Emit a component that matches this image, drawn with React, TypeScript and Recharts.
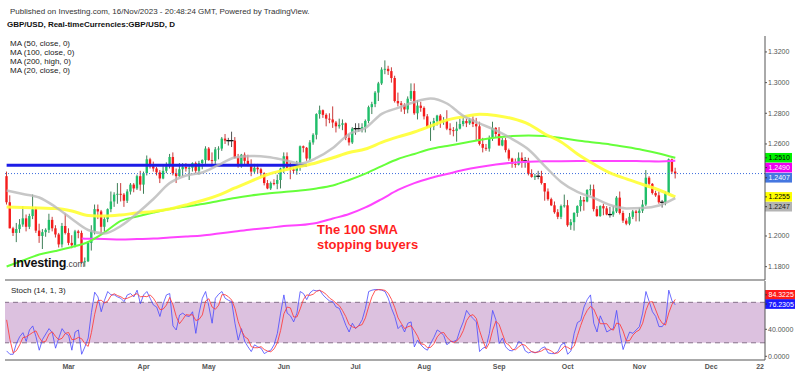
import {
  ComposedChart,
  Bar,
  Line,
  XAxis,
  YAxis,
  ReferenceLine,
  ReferenceArea,
} from "recharts";

const FONT = '"Liberation Sans", Arial, sans-serif';

// daily GBP/USD candles, 2 Feb 2023 .. 16 Nov 2023 (index 0 = 2 Feb)
const opens = [
  1.2390, 1.2220, 1.2050, 1.2020, 1.2045, 1.2075, 1.2115, 1.2060, 1.2130, 1.2175,
  1.2035, 1.2000, 1.2025, 1.2040, 1.2105, 1.2050, 1.2010, 1.1945, 1.2065, 1.2020,
  1.1955, 1.1940, 1.2030, 1.2020, 1.1830, 1.1835, 1.1955, 1.2030, 1.2175, 1.2160,
  1.2060, 1.2110, 1.2175, 1.2225, 1.2270, 1.2275, 1.2270, 1.2230, 1.2290, 1.2335,
  1.2310, 1.2390, 1.2335, 1.2410, 1.2500, 1.2455, 1.2440, 1.2415, 1.2375, 1.2425,
  1.2455, 1.2515, 1.2410, 1.2390, 1.2435, 1.2450, 1.2440, 1.2445, 1.2475, 1.2425,
  1.2475, 1.2495, 1.2570, 1.2495, 1.2490, 1.2565, 1.2570, 1.2635, 1.2622, 1.2622,
  1.2622, 1.2510, 1.2455, 1.2530, 1.2490, 1.2465, 1.2420, 1.2445, 1.2435, 1.2410,
  1.2345, 1.2310, 1.2345, 1.2340, 1.2365, 1.2440, 1.2520, 1.2445, 1.2435, 1.2425,
  1.2475, 1.2585, 1.2575, 1.2505, 1.2610, 1.2660, 1.2795, 1.2820, 1.2790, 1.2765,
  1.2760, 1.2740, 1.2715, 1.2725, 1.2735, 1.2640, 1.2610, 1.2700, 1.2700, 1.2700,
  1.2710, 1.2750, 1.2840, 1.2860, 1.2935, 1.2995, 1.3085, 1.3090, 1.3075, 1.3030,
  1.2880, 1.2865, 1.2855, 1.2825, 1.2895, 1.2945, 1.2800, 1.2850, 1.2835, 1.2780,
  1.2710, 1.2715, 1.2750, 1.2785, 1.2745, 1.2750, 1.2700, 1.2690, 1.2685, 1.2700,
  1.2730, 1.2750, 1.2735, 1.2760, 1.2730, 1.2715, 1.2600, 1.2575, 1.2570, 1.2635,
  1.2705, 1.2665, 1.2590, 1.2625, 1.2560, 1.2505, 1.2470, 1.2465, 1.2510, 1.2490,
  1.2490, 1.2405, 1.2385, 1.2390, 1.2390, 1.2345, 1.2290, 1.2240, 1.2200, 1.2155,
  1.2125, 1.2195, 1.2200, 1.2070, 1.2090, 1.2150, 1.2195, 1.2235, 1.2225, 1.2300,
  1.2305, 1.2175, 1.2130, 1.2195, 1.2180, 1.2140, 1.2140, 1.2160, 1.2250, 1.2150,
  1.2100, 1.2080, 1.2125, 1.2160, 1.2150, 1.2165, 1.2205, 1.2380, 1.2340, 1.2280,
  1.2265, 1.2220, 1.2220, 1.2280, 1.2500, 1.2420,
];

const highs = [
  1.2420, 1.2265, 1.2060, 1.2085, 1.2110, 1.2195, 1.2140, 1.2145, 1.2270, 1.2190,
  1.2080, 1.2045, 1.2050, 1.2145, 1.2125, 1.2070, 1.2020, 1.2085, 1.2145, 1.2050,
  1.2005, 1.2040, 1.2040, 1.2035, 1.1860, 1.1965, 1.2070, 1.2205, 1.2205, 1.2170,
  1.2125, 1.2180, 1.2290, 1.2285, 1.2345, 1.2345, 1.2280, 1.2305, 1.2345, 1.2345,
  1.2400, 1.2425, 1.2420, 1.2525, 1.2510, 1.2485, 1.2450, 1.2430, 1.2455, 1.2480,
  1.2535, 1.2545, 1.2440, 1.2475, 1.2475, 1.2475, 1.2460, 1.2480, 1.2485, 1.2490,
  1.2500, 1.2585, 1.2580, 1.2545, 1.2580, 1.2585, 1.2645, 1.2665, 1.2640, 1.2680,
  1.2645, 1.2535, 1.2535, 1.2545, 1.2530, 1.2500, 1.2470, 1.2470, 1.2445, 1.2415,
  1.2365, 1.2355, 1.2370, 1.2400, 1.2445, 1.2545, 1.2545, 1.2480, 1.2445, 1.2490,
  1.2590, 1.2590, 1.2580, 1.2625, 1.2670, 1.2800, 1.2850, 1.2825, 1.2800, 1.2800,
  1.2845, 1.2750, 1.2765, 1.2760, 1.2740, 1.2665, 1.2710, 1.2735, 1.2735, 1.2735,
  1.2760, 1.2850, 1.2875, 1.2945, 1.3005, 1.3100, 1.3145, 1.3110, 1.3100, 1.3045,
  1.2935, 1.2880, 1.2865, 1.2910, 1.2995, 1.2995, 1.2885, 1.2875, 1.2845, 1.2795,
  1.2745, 1.2770, 1.2790, 1.2795, 1.2775, 1.2820, 1.2735, 1.2710, 1.2745, 1.2765,
  1.2775, 1.2765, 1.2770, 1.2780, 1.2770, 1.2745, 1.2640, 1.2600, 1.2655, 1.2745,
  1.2710, 1.2710, 1.2640, 1.2640, 1.2570, 1.2510, 1.2505, 1.2545, 1.2545, 1.2515,
  1.2510, 1.2435, 1.2405, 1.2425, 1.2425, 1.2345, 1.2310, 1.2250, 1.2225, 1.2175,
  1.2205, 1.2270, 1.2235, 1.2110, 1.2155, 1.2200, 1.2260, 1.2255, 1.2305, 1.2335,
  1.2335, 1.2195, 1.2200, 1.2210, 1.2195, 1.2190, 1.2195, 1.2260, 1.2290, 1.2165,
  1.2115, 1.2150, 1.2170, 1.2170, 1.2185, 1.2235, 1.2430, 1.2390, 1.2345, 1.2295,
  1.2290, 1.2235, 1.2290, 1.2505, 1.2505, 1.2445,
];

const lows = [
  1.2205, 1.2050, 1.2000, 1.1960, 1.2020, 1.2060, 1.2030, 1.2045, 1.2110, 1.2020,
  1.1955, 1.1915, 1.1995, 1.2020, 1.2030, 1.1990, 1.1925, 1.1925, 1.2010, 1.1940,
  1.1920, 1.1925, 1.1985, 1.1820, 1.1800, 1.1830, 1.1905, 1.2010, 1.2110, 1.2010,
  1.2030, 1.2090, 1.2155, 1.2190, 1.2210, 1.2225, 1.2190, 1.2215, 1.2270, 1.2285,
  1.2300, 1.2295, 1.2275, 1.2395, 1.2440, 1.2420, 1.2395, 1.2345, 1.2370, 1.2410,
  1.2440, 1.2395, 1.2345, 1.2385, 1.2390, 1.2420, 1.2365, 1.2420, 1.2410, 1.2400,
  1.2435, 1.2470, 1.2490, 1.2460, 1.2470, 1.2500, 1.2555, 1.2600, 1.2590, 1.2580,
  1.2505, 1.2445, 1.2445, 1.2465, 1.2455, 1.2390, 1.2410, 1.2405, 1.2390, 1.2330,
  1.2305, 1.2300, 1.2330, 1.2305, 1.2310, 1.2410, 1.2440, 1.2370, 1.2405, 1.2400,
  1.2425, 1.2545, 1.2490, 1.2495, 1.2595, 1.2630, 1.2765, 1.2770, 1.2715, 1.2735,
  1.2705, 1.2675, 1.2700, 1.2690, 1.2625, 1.2590, 1.2600, 1.2660, 1.2680, 1.2675,
  1.2675, 1.2735, 1.2795, 1.2840, 1.2880, 1.2985, 1.3055, 1.3050, 1.3000, 1.2870,
  1.2845, 1.2810, 1.2795, 1.2800, 1.2880, 1.2790, 1.2760, 1.2810, 1.2760, 1.2705,
  1.2620, 1.2690, 1.2720, 1.2705, 1.2725, 1.2690, 1.2660, 1.2650, 1.2615, 1.2695,
  1.2715, 1.2710, 1.2725, 1.2710, 1.2620, 1.2590, 1.2545, 1.2555, 1.2550, 1.2620,
  1.2640, 1.2590, 1.2585, 1.2545, 1.2490, 1.2445, 1.2445, 1.2460, 1.2445, 1.2445,
  1.2395, 1.2380, 1.2365, 1.2370, 1.2335, 1.2230, 1.2230, 1.2195, 1.2145, 1.2110,
  1.2110, 1.2185, 1.2060, 1.2040, 1.2035, 1.2125, 1.2160, 1.2165, 1.2220, 1.2265,
  1.2160, 1.2125, 1.2125, 1.2135, 1.2135, 1.2120, 1.2125, 1.2150, 1.2140, 1.2085,
  1.2070, 1.2070, 1.2110, 1.2095, 1.2095, 1.2150, 1.2195, 1.2325, 1.2270, 1.2255,
  1.2210, 1.2185, 1.2200, 1.2275, 1.2405, 1.2375,
];

const closes = [
  1.2220, 1.2050, 1.2020, 1.2045, 1.2075, 1.2115, 1.2060, 1.2130, 1.2175, 1.2035,
  1.2000, 1.2025, 1.2040, 1.2105, 1.2050, 1.2010, 1.1945, 1.2065, 1.2020, 1.1955,
  1.1940, 1.2030, 1.2020, 1.1830, 1.1835, 1.1955, 1.2030, 1.2175, 1.2160, 1.2060,
  1.2110, 1.2175, 1.2225, 1.2270, 1.2275, 1.2270, 1.2230, 1.2290, 1.2335, 1.2310,
  1.2390, 1.2335, 1.2410, 1.2500, 1.2455, 1.2440, 1.2415, 1.2375, 1.2425, 1.2455,
  1.2515, 1.2410, 1.2390, 1.2435, 1.2450, 1.2440, 1.2445, 1.2475, 1.2425, 1.2475,
  1.2495, 1.2570, 1.2495, 1.2490, 1.2565, 1.2570, 1.2635, 1.2622, 1.2622, 1.2622,
  1.2510, 1.2455, 1.2530, 1.2490, 1.2465, 1.2420, 1.2445, 1.2435, 1.2410, 1.2345,
  1.2310, 1.2345, 1.2340, 1.2365, 1.2440, 1.2520, 1.2445, 1.2435, 1.2425, 1.2475,
  1.2585, 1.2575, 1.2505, 1.2610, 1.2660, 1.2795, 1.2820, 1.2790, 1.2765, 1.2760,
  1.2740, 1.2715, 1.2725, 1.2735, 1.2640, 1.2610, 1.2700, 1.2700, 1.2700, 1.2710,
  1.2750, 1.2840, 1.2860, 1.2935, 1.2995, 1.3085, 1.3090, 1.3075, 1.3030, 1.2880,
  1.2865, 1.2855, 1.2825, 1.2895, 1.2945, 1.2800, 1.2850, 1.2835, 1.2780, 1.2710,
  1.2715, 1.2750, 1.2785, 1.2745, 1.2750, 1.2700, 1.2690, 1.2685, 1.2700, 1.2730,
  1.2750, 1.2735, 1.2760, 1.2730, 1.2715, 1.2600, 1.2575, 1.2570, 1.2635, 1.2705,
  1.2665, 1.2590, 1.2625, 1.2560, 1.2505, 1.2470, 1.2465, 1.2510, 1.2490, 1.2490,
  1.2405, 1.2385, 1.2390, 1.2390, 1.2345, 1.2290, 1.2240, 1.2200, 1.2155, 1.2125,
  1.2195, 1.2200, 1.2070, 1.2090, 1.2150, 1.2195, 1.2235, 1.2225, 1.2300, 1.2305,
  1.2175, 1.2130, 1.2195, 1.2180, 1.2140, 1.2140, 1.2160, 1.2250, 1.2150, 1.2100,
  1.2080, 1.2125, 1.2160, 1.2150, 1.2165, 1.2205, 1.2380, 1.2340, 1.2280, 1.2265,
  1.2220, 1.2220, 1.2280, 1.2500, 1.2420, 1.2407,
];

// moving averages every 5 sessions
const maDays = [
  0, 5, 10, 15, 20, 25, 30, 35, 40, 45, 50, 55, 60, 65, 70, 75, 80, 85, 90, 95, 100,
  105, 110, 115, 120, 125, 130, 135, 140, 145, 150, 155, 160, 165, 170, 175, 180, 185,
  190, 195, 200, 205,
];
const ma50 = [
  1.2189, 1.2186, 1.2182, 1.2179, 1.2163, 1.2134, 1.2130, 1.2137, 1.2150, 1.2160, 1.2176,
  1.2202, 1.2231, 1.2267, 1.2313, 1.2358, 1.2401, 1.2430, 1.2453, 1.2478, 1.2510, 1.2544,
  1.2567, 1.2610, 1.2646, 1.2678, 1.2717, 1.2756, 1.2778, 1.2794, 1.2786, 1.2766, 1.2730,
  1.2665, 1.2613, 1.2535, 1.2469, 1.2411, 1.2372, 1.2336, 1.2300, 1.2255,
];
const ma20 = [
  1.2297, 1.2274, 1.2251, 1.2189, 1.2111, 1.2039, 1.2017, 1.2065, 1.2147, 1.2241, 1.2345,
  1.2394, 1.2414, 1.2463, 1.2512, 1.2522, 1.2515, 1.2496, 1.2473, 1.2509, 1.2574, 1.2665,
  1.2704, 1.2796, 1.2835, 1.2874, 1.2897, 1.2864, 1.2783, 1.2734, 1.2688, 1.2632, 1.2564,
  1.2456, 1.2352, 1.2287, 1.2248, 1.2202, 1.2180, 1.2182, 1.2199, 1.2247,
];
const ma100 = [
  1.1801, 1.1840, 1.1879, 1.1902, 1.1928, 1.1961, 1.2023, 1.2098, 1.2127, 1.2153, 1.2176,
  1.2192, 1.2208, 1.2228, 1.2248, 1.2264, 1.2277, 1.2287, 1.2297, 1.2310, 1.2329, 1.2365,
  1.2407, 1.2456, 1.2502, 1.2535, 1.2567, 1.2587, 1.2606, 1.2626, 1.2642, 1.2652, 1.2655,
  1.2652, 1.2639, 1.2623, 1.2610, 1.2597, 1.2580, 1.2561, 1.2538, 1.2510,
];
const ma200Days = [
  23, 25, 30, 35, 40, 45, 50, 55, 60, 65, 70, 75, 80, 85, 90, 95, 100, 105, 110, 115, 120,
  125, 130, 135, 140, 145, 150, 155, 160, 165, 170, 175, 180, 185, 190, 195, 200, 205,
];
const ma200 = [
  1.1983, 1.1982, 1.1980, 1.1977, 1.1980, 1.1983, 1.1990, 1.1996, 1.2003, 1.2016, 1.2029,
  1.2042, 1.2052, 1.2065, 1.2071, 1.2085, 1.2114, 1.2143, 1.2186, 1.2241, 1.2300, 1.2345,
  1.2378, 1.2404, 1.2430, 1.2450, 1.2466, 1.2478, 1.2484, 1.2487, 1.2488, 1.2489, 1.2489,
  1.2489, 1.2489, 1.2488, 1.2486, 1.2490,
];

// stochastic (14, 1, 3)
const stochK = [
  8, 3, 3, 19, 29, 35, 22, 39, 45, 29,
  9, 25, 33, 41, 35, 12, 27, 41, 34, 31,
  9, 36, 39, 3, 14, 27, 65, 95, 88, 66,
  83, 96, 91, 91, 88, 86, 81, 91, 93, 88,
  98, 78, 91, 96, 86, 76, 73, 59, 78, 91,
  93, 45, 39, 61, 64, 60, 59, 66, 34, 64,
  86, 96, 74, 49, 86, 92, 96, 86, 83, 81,
  49, 24, 41, 22, 14, 7, 17, 14, 12, 4,
  7, 9, 17, 34, 64, 91, 64, 60, 51, 64,
  96, 93, 84, 94, 98, 97, 98, 91, 86, 82,
  81, 73, 71, 59, 46, 36, 49, 41, 46, 54,
  71, 96, 98, 99, 99, 98, 96, 86, 71, 59,
  41, 46, 36, 49, 51, 14, 24, 17, 12, 9,
  19, 28, 39, 36, 31, 17, 22, 22, 24, 39,
  51, 68, 61, 56, 51, 7, 12, 14, 34, 68,
  54, 19, 27, 14, 9, 8, 12, 22, 19, 8,
  5, 7, 5, 7, 12, 14, 5, 4, 4, 7,
  17, 20, 3, 8, 34, 50, 53, 73, 84, 91,
  49, 36, 60, 49, 36, 39, 41, 68, 34, 10,
  24, 36, 34, 39, 44, 64, 96, 81, 66, 59,
  44, 44, 51, 98, 82, 76.2305,
];
const stochD = [
  54, 25, 5, 8.3, 17, 27.7, 28.7, 32, 35.3, 37.7,
  27.7, 21, 22.3, 33, 36.3, 29.3, 24.7, 26.7, 34, 35.3,
  24.7, 25.3, 28, 26, 18.7, 14.7, 35.3, 62.3, 82.7, 83,
  79, 81.7, 90, 92.7, 90, 88.3, 85, 86, 88.3, 90.7,
  93, 88, 89, 88.3, 91, 86, 78.3, 69.3, 70, 76,
  87.3, 76.3, 59, 48.3, 54.7, 61.7, 61, 61.7, 53, 54.7,
  61.3, 82, 85.3, 73, 69.7, 75.7, 91.3, 91.3, 88.3, 83.3,
  71, 51.3, 38, 29, 25.7, 14.3, 12.7, 12.7, 14.3, 10,
  7.7, 6.7, 11, 20, 38.3, 63, 73, 71.7, 58.3, 58.3,
  70.3, 84.3, 91, 90.3, 92, 96.3, 97.7, 95.3, 91.7, 86.3,
  83, 78.7, 75, 67.7, 58.7, 47, 43.7, 42, 45.3, 47,
  57, 73.7, 88.3, 97.7, 98.7, 98.7, 97.7, 93.3, 84.3, 72,
  57, 48.7, 41, 43.7, 45.3, 38, 29.7, 18.3, 17.7, 12.7,
  13.3, 18.7, 28.7, 34.3, 35.3, 28, 23.3, 20.3, 22.7, 28.3,
  38, 52.7, 60, 61.7, 56, 38, 23.3, 11, 20, 38.7,
  52, 47, 33.3, 20, 16.7, 10.3, 9.7, 14, 17.7, 16.3,
  10.7, 6.7, 5.7, 6.3, 8, 11, 10.3, 7.7, 4.3, 5,
  9.3, 14.7, 13.3, 10.3, 15, 30.7, 45.7, 58.7, 68, 74,
  70, 58.7, 48.3, 48.3, 48.3, 41.3, 38.7, 49.3, 47.7, 37.3,
  22.7, 23.3, 31.3, 36.3, 39, 49, 68, 80.3, 81, 68.7,
  56.3, 49, 46.3, 64.3, 77, 84.3225,
];

// axis slots run on to 25 Dec (trading days only)
const SLOTS = 233;
const monthTicks = [19, 42, 62, 85, 107, 128, 151, 172, 194, 216, 231];
const monthLabels = ["Mar", "Apr", "May", "Jun", "Jul", "Aug", "Sep", "Oct", "Nov", "Dec", "22"];
const priceTicks = [1.18, 1.2, 1.26, 1.28, 1.3, 1.32];
const stochTicks = [0, 40];

const levelLine = 1.2462;
const lastPrice = 1.2407;

const rows: any[] = Array.from({ length: SLOTS }, (_, i) => {
  const r: any = { i };
  if (i < closes.length) {
    r.open = opens[i];
    r.high = highs[i];
    r.low = lows[i];
    r.close = closes[i];
    r.range = [lows[i], highs[i]];
    r.k = stochK[i];
    r.d = stochD[i];
  }
  return r;
});
maDays.forEach((d, j) => {
  rows[d].ma50 = ma50[j];
  rows[d].ma20 = ma20[j];
  rows[d].ma100 = ma100[j];
});
ma200Days.forEach((d, j) => {
  rows[d].ma200 = ma200[j];
});

const Candle = (props: any) => {
  const { x, y, width, height, payload } = props;
  if (!payload || payload.open === undefined || !isFinite(y)) return <g />;
  const { open, close, high, low } = payload;
  const top = Math.min(y, y + height);
  const span = Math.abs(height);
  const unit = high > low ? span / (high - low) : 0;
  const yOf = (v: number) => top + (high - v) * unit;
  const cx = x + width / 2;
  if (open === close) {
    return (
      <g>
        <line x1={cx} x2={cx} y1={top} y2={top + span} stroke="#555" strokeWidth={1} />
        <rect x={cx - 2} y={yOf(open) - 0.6} width={4} height={1.3} fill="#111" />
      </g>
    );
  }
  const up = close > open;
  const y1 = Math.min(yOf(open), yOf(close));
  const h = Math.max(Math.abs(yOf(open) - yOf(close)), 1);
  return (
    <g>
      <line
        x1={cx}
        x2={cx}
        y1={top}
        y2={top + span}
        stroke={up ? "#3f7f58" : "#c83a3a"}
        strokeWidth={1}
      />
      <rect x={cx - 1.2} y={y1} width={2.4} height={h} fill={up ? "#1fbf6a" : "#f51c1c"} />
    </g>
  );
};

const Tag = ({ viewBox, text, bg, fg, dy = 0, w = 27 }: any) => {
  if (!viewBox) return null;
  const x = viewBox.x + viewBox.width;
  const y = viewBox.y + dy;
  return (
    <g>
      <rect x={x} y={y - 4.8} width={w} height={9.6} fill={bg} />
      <line x1={x} x2={x + 2} y1={y} y2={y} stroke="#333" />
      <text x={x + 3.5} y={y + 2.5} fontSize={7} fill={fg} fontFamily={FONT}>
        {text}
      </text>
    </g>
  );
};

const monthName = (v: any) => {
  const k = monthTicks.indexOf(Number(v));
  return k >= 0 ? monthLabels[k] : "";
};

const txt = (left: number, top: number, size: number, extra: any = {}) => ({
  position: "absolute" as const,
  left,
  top,
  fontSize: size,
  lineHeight: `${size + 1}px`,
  whiteSpace: "nowrap" as const,
  color: "#222",
  ...extra,
});

export default function App() {
  return (
    <div
      style={{
        position: "absolute",
        left: 0,
        top: 0,
        width: 800,
        height: 375,
        background: "#fff",
        overflow: "hidden",
        fontFamily: FONT,
      }}
    >
      <div style={{ position: "absolute", left: 0, top: 0 }}>
        <ComposedChart
          width={800}
          height={281}
          data={rows}
          margin={{ top: 36, right: 0, bottom: 0, left: 5 }}
          barCategoryGap={0}
          barGap={0}
        >
          <XAxis
            dataKey="i"
            type="category"
            scale="band"
            tick={false}
            tickLine={false}
            height={1}
            axisLine={{ stroke: "#555" }}
          />
          <YAxis
            orientation="right"
            type="number"
            width={35}
            domain={[1.1713, 1.3304]}
            allowDataOverflow
            ticks={priceTicks}
            tickFormatter={(v: number) => v.toFixed(4)}
            tick={{ fontSize: 7, fill: "#555", fontFamily: FONT }}
            tickSize={2}
            tickMargin={1}
            axisLine={{ stroke: "#555" }}
            tickLine={{ stroke: "#555" }}
          />
          <ReferenceLine
            segment={[
              { x: 0, y: levelLine },
              { x: 92, y: levelLine },
            ]}
            stroke="#1c1ce6"
            strokeWidth={3}
          />
          <ReferenceLine y={lastPrice} stroke="#3a6bdd" strokeDasharray="1 2" />
          <Bar dataKey="range" shape={Candle} isAnimationActive={false} />
          <Line
            dataKey="ma200"
            type="monotone"
            stroke="#ff44ff"
            strokeWidth={2}
            dot={false}
            activeDot={false}
            connectNulls
            isAnimationActive={false}
          />
          <Line
            dataKey="ma100"
            type="monotone"
            stroke="#66ff3a"
            strokeWidth={2}
            dot={false}
            activeDot={false}
            connectNulls
            isAnimationActive={false}
          />
          <Line
            dataKey="ma50"
            type="monotone"
            stroke="#ffff33"
            strokeWidth={3}
            strokeOpacity={0.9}
            dot={false}
            activeDot={false}
            connectNulls
            isAnimationActive={false}
          />
          <Line
            dataKey="ma20"
            type="monotone"
            stroke="#b9b9b9"
            strokeWidth={2.5}
            strokeOpacity={0.8}
            dot={false}
            activeDot={false}
            connectNulls
            isAnimationActive={false}
          />
          <ReferenceLine y={1.251} stroke="none" label={<Tag text="1.2510" bg="#00f000" fg="#000" dy={0} />} />
          <ReferenceLine y={1.249} stroke="none" label={<Tag text="1.2490" bg="#f000f0" fg="#fff" dy={6.8} />} />
          <ReferenceLine y={1.2407} stroke="none" label={<Tag text="1.2407" bg="#4577e0" fg="#fff" dy={4.2} />} />
          <ReferenceLine y={1.2255} stroke="none" label={<Tag text="1.2255" bg="#ffff00" fg="#000" dy={0} />} />
          <ReferenceLine y={1.2247} stroke="none" label={<Tag text="1.2247" bg="#b4b4b4" fg="#222" dy={8.6} />} />
        </ComposedChart>
      </div>

      <div style={{ position: "absolute", left: 0, top: 280 }}>
        <ComposedChart
          width={800}
          height={95}
          data={rows}
          margin={{ top: 1, right: 0, bottom: 0, left: 5 }}
        >
          <ReferenceArea y1={20} y2={80} fill="#dcc1df" fillOpacity={1} stroke="none" />
          <ReferenceLine y={80} stroke="#86708a" strokeDasharray="5 4" />
          <ReferenceLine y={20} stroke="#86708a" strokeDasharray="5 4" />
          <XAxis
            dataKey="i"
            type="category"
            scale="band"
            ticks={monthTicks}
            interval={0}
            tickFormatter={monthName}
            height={15}
            tickSize={2}
            tickMargin={2}
            tickLine={false}
            axisLine={{ stroke: "#555" }}
            tick={{ fontSize: 7, fill: "#555", fontWeight: "bold", fontFamily: FONT }}
          />
          <YAxis
            orientation="right"
            type="number"
            width={35}
            domain={[-5.5, 111.6]}
            allowDataOverflow
            ticks={stochTicks}
            tickFormatter={(v: number) => v.toFixed(4)}
            tick={{ fontSize: 7, fill: "#555", fontFamily: FONT }}
            tickSize={2}
            tickMargin={1}
            axisLine={{ stroke: "#555" }}
            tickLine={{ stroke: "#555" }}
          />
          <Line
            dataKey="k"
            type="linear"
            stroke="#4a4aff"
            strokeOpacity={0.8}
            strokeWidth={1}
            dot={false}
            activeDot={false}
            isAnimationActive={false}
          />
          <Line
            dataKey="d"
            type="linear"
            stroke="#ff3a3a"
            strokeOpacity={0.85}
            strokeWidth={1}
            dot={false}
            activeDot={false}
            isAnimationActive={false}
          />
          <ReferenceLine y={84.3225} stroke="none" label={<Tag text="84.3225" bg="#ff1a1a" fg="#fff" dy={-4.6} w={30} />} />
          <ReferenceLine y={76.2305} stroke="none" label={<Tag text="76.2305" bg="#1a1aff" fg="#fff" dy={-0.8} w={30} />} />
        </ComposedChart>
      </div>

      <div style={txt(10, 7, 8, { color: "#333" })}>
        Published on Investing.com, 16/Nov/2023 - 20:48:24 GMT, Powered by TradingView.
      </div>
      <div style={txt(7, 20, 8, { fontWeight: "bold", color: "#111" })}>
        GBP/USD, Real-timeCurrencies:GBP/USD, D
      </div>
      <div style={txt(10, 39, 8)}>MA (50, close, 0)</div>
      <div style={txt(10, 48, 8)}>MA (100, close, 0)</div>
      <div style={txt(10, 57, 8)}>MA (200, high, 0)</div>
      <div style={txt(10, 66, 8)}>MA (20, close, 0)</div>

      <div style={txt(13, 257, 12.5, { fontWeight: "bold", color: "#111", letterSpacing: -0.2 })}>
        Investing
        <span style={{ fontSize: 8.5, fontWeight: "normal", color: "#444", letterSpacing: 0 }}>.com</span>
      </div>

      <div style={txt(317, 222, 13, { fontWeight: "bold", color: "#ff1f1f", lineHeight: "15px" })}>
        The 100 SMA
        <br />
        stopping buyers
      </div>

      <div style={txt(11, 286, 8, { color: "#222" })}>Stoch (14, 1, 3)</div>
    </div>
  );
}
